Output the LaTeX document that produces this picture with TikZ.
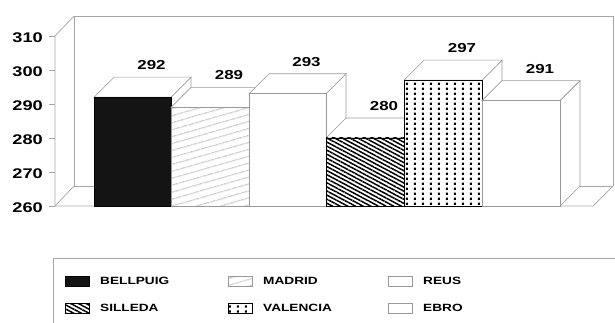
\documentclass[tikz,border=0pt]{standalone}
\usepackage{fontspec}
\newfontfamily\chartfont[FakeStretch=1.3]{Liberation Sans}
\usetikzlibrary{patterns.meta}
\tikzstyle{frame} = [draw=black!35, line width=0.7pt]
\tikzstyle{face} = [fill=white, draw=black!40, line width=0.6pt]
\tikzstyle{value} = [font=\chartfont\bfseries\fontsize{13}{13}\selectfont, inner sep=0pt]
\tikzstyle{ticklabel} = [font=\chartfont\bfseries\fontsize{14}{14}\selectfont, anchor=east, inner sep=0pt]
\tikzstyle{key} = [font=\chartfont\bfseries\fontsize{10.5}{11}\selectfont, anchor=west, inner sep=0pt]
\pgfdeclarepatternformonly{valdots}{\pgfpointorigin}{\pgfqpoint{8.4pt}{4.7pt}}{\pgfqpoint{8.4pt}{4.7pt}}{
  \pgfpathrectangle{\pgfqpoint{3pt}{1.3pt}}{\pgfqpoint{2.2pt}{2.2pt}}\pgfusepath{fill}}

\begin{document}
\begin{tikzpicture}[x=1pt, y=-1pt,
bellpuig/.style={fill=black!92, draw=black, line width=0.6pt},
madrid/.style={preaction={fill=white}, pattern={Lines[angle=16,distance=6.5pt,line width=0.6pt]}, pattern color=black!60, draw=black!40, line width=0.6pt},
reus/.style={fill=white, draw=black!40, line width=0.6pt},
silleda/.style={preaction={fill=white}, pattern={Lines[angle=-28,distance=3.6pt,line width=1.5pt]}, pattern color=black, draw=black, line width=0.6pt},
valencia/.style={preaction={fill=white}, pattern=valdots, draw=black, line width=0.6pt},
ebro/.style={fill=white, draw=black!40, line width=0.6pt}
]
\useasboundingbox (0,0) rectangle (615,323);
% walls and floor
\draw[frame] (74,186) -- (74,16) -- (613,16) -- (613,186);
\draw[frame] (74,186) -- (613,186);
\draw[frame] (55,206) -- (55,36) -- (74,16);
\draw[frame] (55,206) -- (74,186);
\draw[frame] (55,206) -- (593,206) -- (613,186);
% value axis
\foreach \v in {260,270,...,310} {
  \draw[frame] (49,{206-(\v-260)*3.4}) -- (55,{206-(\v-260)*3.4});
  \node[ticklabel] (tick-\v) at (43,{208-(\v-260)*3.4}) {\v};
}
% bars
\foreach \name/\xl/\xr/\v in {bellpuig/94/171/292, madrid/171/249/289, reus/249/326/293,
    silleda/326/404/280, valencia/404/482/297, ebro/482/560/291} {
  \pgfmathsetmacro{\yt}{206-(\v-260)*3.4}
  \path[face] (\xr,\yt) -- (\xr+20,\yt-20) -- (\xr+20,186) -- (\xr,206) -- cycle;
  \path[face] (\xl,\yt) -- (\xl+20,\yt-20) -- (\xr+20,\yt-20) -- (\xr,\yt) -- cycle;
  \path[\name] (\xl,\yt) rectangle (\xr,206);
  \node[value] (val-\name) at ({(\xl+\xr)/2+19},\yt-32) {\v};
}
% legend
\draw[frame] (53,323) -- (53,258) -- (615,258);
\foreach \name/\label/\x/\y in {bellpuig/BELLPUIG/65/276, silleda/SILLEDA/65/303,
    madrid/MADRID/228/276, valencia/VALENCIA/228/303, reus/REUS/388/276, ebro/EBRO/388/303} {
  \path[\name] (\x,\y) rectangle (\x+24,\y+10);
  \node[key] (key-\name) at (\x+35,\y+5) {\label};
}
\end{tikzpicture}
\end{document}
